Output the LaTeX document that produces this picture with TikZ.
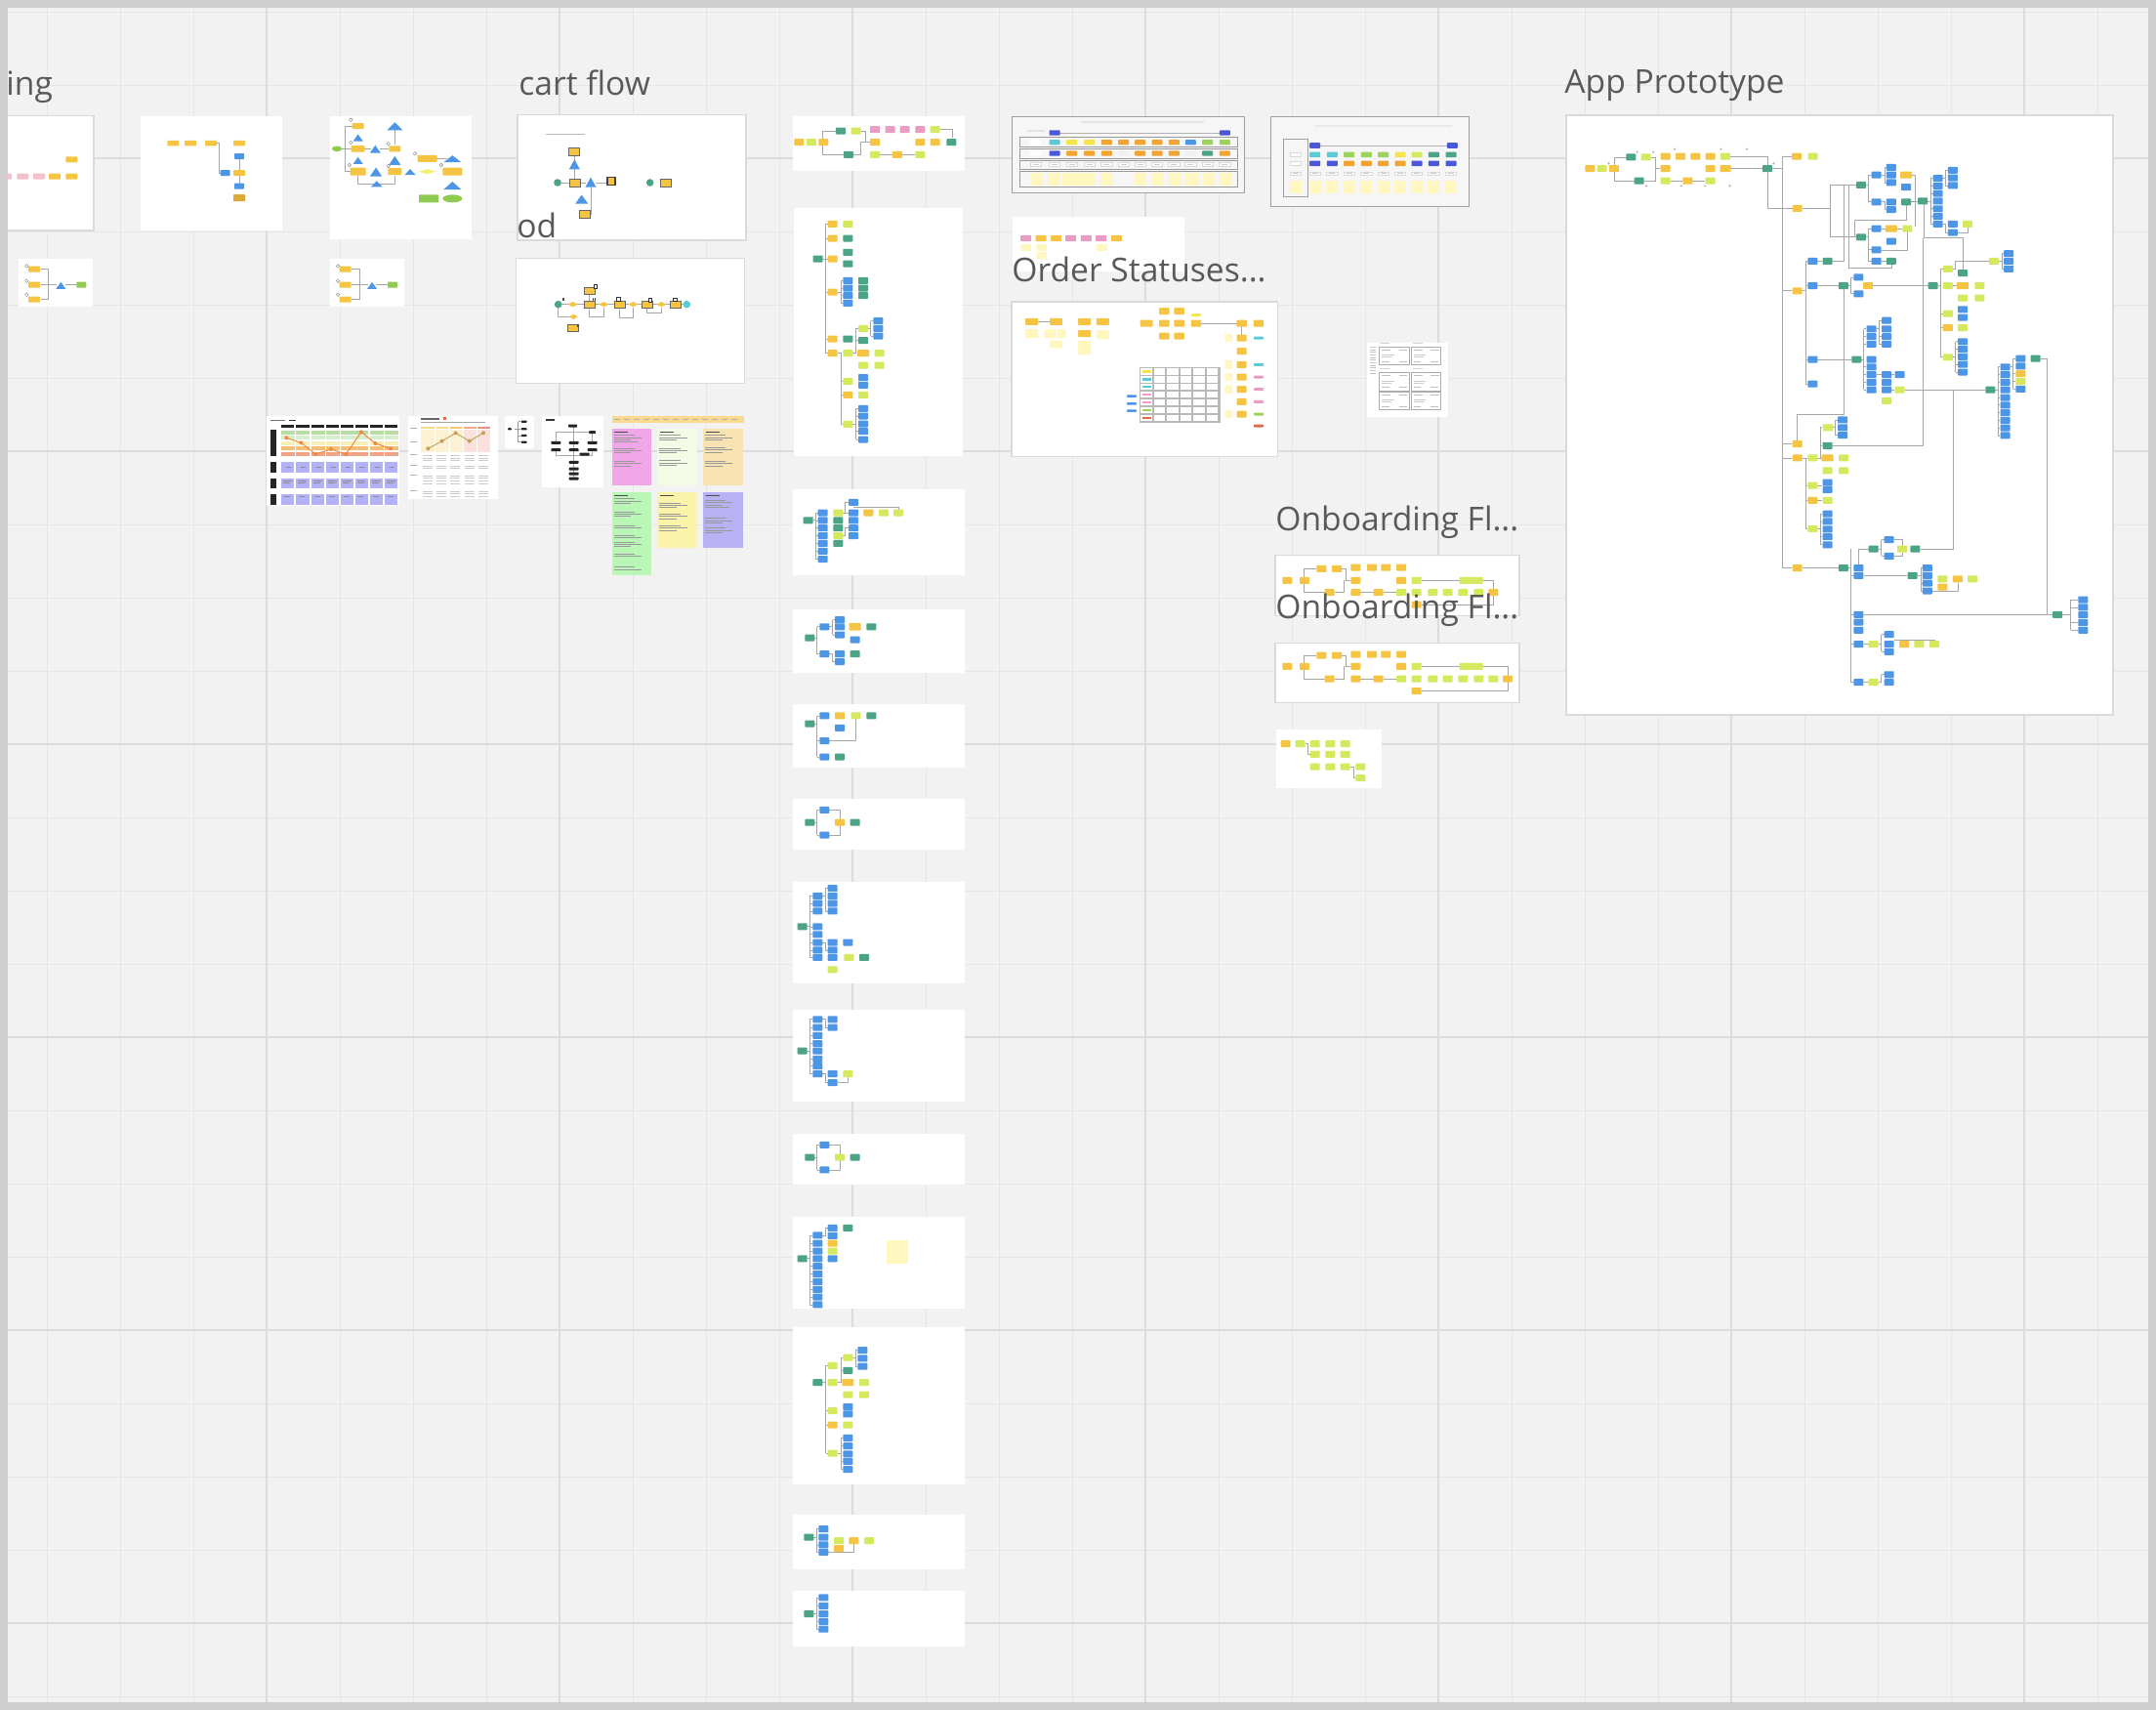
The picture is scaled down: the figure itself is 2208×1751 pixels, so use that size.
\documentclass[tikz,border=0pt]{standalone}
\usepackage{fontspec}
\setmainfont{Open Sans}
\definecolor{bgc}{HTML}{F2F2F2}
\definecolor{gmin}{HTML}{E6E6E6}
\definecolor{gmaj}{HTML}{DCDCDC}
\definecolor{frm}{HTML}{CFCFCF}
\definecolor{cardb}{HTML}{DADADA}
\definecolor{ttlc}{HTML}{595959}
\definecolor{cO}{HTML}{F5C443}
\definecolor{cOd}{HTML}{DDA935}
\definecolor{cL}{HTML}{D6E85E}
\definecolor{cT}{HTML}{4BA486}
\definecolor{cB}{HTML}{4D96E6}
\definecolor{cP}{HTML}{E99CC4}
\definecolor{cPl}{HTML}{F4C0CB}
\definecolor{cY}{HTML}{FFF7BF}
\definecolor{cGr}{HTML}{8FCB4E}
\definecolor{cGa}{HTML}{9CD35A}
\definecolor{cC}{HTML}{5CCAD6}
\definecolor{cDB}{HTML}{4A57D8}
\definecolor{cOr}{HTML}{F0A532}
\definecolor{cYe}{HTML}{F3E54B}
\definecolor{cYd}{HTML}{F4F07A}
\definecolor{cR}{HTML}{DE6B4E}
\definecolor{lnc}{HTML}{A6A6A6}
\definecolor{jm1}{HTML}{B9DCA4}
\definecolor{jm2}{HTML}{D8EDCB}
\definecolor{jm3}{HTML}{F6EFB7}
\definecolor{jm4}{HTML}{F6BE75}
\definecolor{jm5}{HTML}{F2A488}
\definecolor{jmp}{HTML}{B4B2F6}
\definecolor{jml}{HTML}{EE8A40}
\definecolor{jh1}{HTML}{F9D98A}
\definecolor{jh2}{HTML}{F7C56A}
\definecolor{jh3}{HTML}{F3A88F}
\definecolor{jh4}{HTML}{EF8F78}
\definecolor{jb1}{HTML}{FDF1D4}
\definecolor{jb2}{HTML}{FBE0DC}
\definecolor{banc}{HTML}{FAD98E}
\definecolor{stP}{HTML}{F0A6E8}
\definecolor{stLg}{HTML}{F4FBE4}
\definecolor{stBe}{HTML}{FAE3B3}
\definecolor{stG}{HTML}{BAF6B6}
\definecolor{stY}{HTML}{FBF3A9}
\definecolor{stV}{HTML}{B8B1F4}
\definecolor{laneb}{HTML}{F6F6F6}
\tikzset{
  ln/.style={draw=lnc,line width=0.35pt},
  card/.style={fill=white,draw=cardb,line width=0.8pt},
  ttl/.style={font=\fontsize{16.8}{20}\selectfont,text=ttlc,inner sep=0pt,anchor=base west},
  scribst/.style={draw=black!40,line width=0.28pt},
  zA/.style={x=0.166667pt,y=-0.166667pt},
}
\newcommand\rbx[5]{\fill[#1,rounded corners=0.4pt] (#2,#3) ++({-0.5*(#4)},{0.5*(#5)}) rectangle ++(#4,{-1*(#5)});}
\newcommand\bx[3]{\rbx{#1}{#2}{#3}{5pt}{3.5pt}}
\newcommand\bxs[3]{\foreach \yy in {#3}{\bx{#1}{#2}{\yy}}}
\newcommand\tri[4]{\fill[cB] (#1,#2) ++(0pt,{0.5*(#4)}) -- ++({0.5*(#3)},{-1*(#4)}) -- ++({-1*(#3)},0pt) -- cycle;}
\newcommand\dia[4]{\fill[#1] (#2,#3) ++({-0.5*(#4)},0pt) -- ++({0.5*(#4)},1.3pt) -- ++({0.5*(#4)},-1.3pt) -- ++({-0.5*(#4)},-1.3pt) -- cycle;}
\newcommand\obx[4]{\filldraw[fill=cO,draw=black!60,line width=0.25pt] (#1,#2) ++({-0.5*(#3)},{0.5*(#4)}) rectangle ++(#3,{-1*(#4)});}
\newcommand\tks[3]{\foreach \yy in {#3}{\draw[ln] (#1,\yy) -- (#2,\yy);}}
\newcommand\scrib[5]{\foreach \ii in {1,...,#4}{\pgfmathsetmacro\ww{#1+(#3-#1)*(0.45+0.45*mod(\ii*7,5)/4)}\draw[scribst] (#1,{#2+\ii*#5}) -- (\ww,{#2+\ii*#5});}}
\begin{document}
\begin{tikzpicture}[x=0.5pt,y=-0.5pt]
\useasboundingbox (0,0) rectangle (2208,1751);
\fill[bgc] (0,0) rectangle (2208,1751);
\foreach \xx in {48,123,...,2208}{\draw[gmin,line width=0.5pt] (\xx,0) -- (\xx,1751);}
\foreach \yy in {12,87,...,1751}{\draw[gmin,line width=0.5pt] (0,\yy) -- (2208,\yy);}
\foreach \xx in {273,573,...,2208}{\draw[gmaj,line width=1.1pt] (\xx,0) -- (\xx,1751);}
\foreach \yy in {162,462,...,1751}{\draw[gmaj,line width=1.1pt] (0,\yy) -- (2208,\yy);}

% ================= Z1 : left cards
\begin{scope}[shift={(0,60)},zA]
\draw[card] (-30,175) rectangle (288,528);
\rbx{cO}{220}{310}{6pt}{3pt}
\foreach \xa in {18,70,120}{\rbx{cPl}{\xa}{362}{6pt}{3pt}}
\rbx{cO}{168}{362}{6pt}{3pt}
\rbx{cO}{220}{362}{6pt}{3pt}
% card B
\fill[white] (432,178) rectangle (866,528);
\draw[ln] (667,260) -- (673,260) -- (673,351) -- (680,351);
\draw[ln] (735,300) -- (735,392);
\foreach \xa in {532,585,648}{\rbx{cO}{\xa}{260}{6pt}{2.8pt}}
\rbx{cB}{692}{351}{5pt}{3pt}
\rbx{cO}{735}{260}{6pt}{2.8pt}
\rbx{cB}{735}{300}{5pt}{3pt}
\rbx{cO}{735}{351}{6pt}{3pt}
\rbx{cB}{735}{392}{5pt}{3pt}
\rbx{cOd}{735}{428}{6pt}{3.5pt}
% card C
\fill[white] (1013,178) rectangle (1448,555);
\draw[ln] (1085,207) -- (1060,207) -- (1060,347) -- (1080,347);
\draw[ln] (1045,277) -- (1085,277) (1115,277) -- (1140,277) (1167,277) -- (1195,277);
\draw[ln] (1213,215) -- (1213,265);
\draw[ln] (1100,360) -- (1100,385) -- (1213,385) -- (1213,360);
\draw[ln] (1340,307) -- (1375,307);
\fill[cGr] (1035,277) ellipse [x radius=2.6pt, y radius=1.4pt];
\foreach \pa in {(1078,188),(1078,258),(1193,262),(1073,327),(1193,330),(1275,292),(1355,327)}{\draw[gray,line width=0.2pt] \pa circle [radius=0.9pt];}
\rbx{cO}{1100}{207}{6pt}{3pt}
\rbx{cO}{1100}{277}{7pt}{3.2pt}
\rbx{cO}{1213}{277}{6pt}{3pt}
\rbx{cO}{1100}{347}{8pt}{4pt}
\rbx{cO}{1213}{347}{7pt}{3.5pt}
\rbx{cO}{1313}{307}{10pt}{3.5pt}
\rbx{cO}{1390}{347}{10pt}{4pt}
\tri{1213}{208}{8pt}{4pt}
\tri{1100}{243}{5pt}{3.5pt}
\tri{1153}{278}{5.5pt}{4pt}
\tri{1100}{313}{5pt}{3.5pt}
\tri{1155}{348}{6pt}{4.5pt}
\tri{1213}{313}{6pt}{4.5pt}
\tri{1157}{385}{6pt}{3pt}
\tri{1260}{348}{5.5pt}{3pt}
\tri{1390}{308}{9pt}{3.5pt}
\tri{1390}{390}{9pt}{4pt}
\dia{cYd}{1313}{347}{9pt}
\rbx{cGr}{1317}{430}{10pt}{4pt}
\fill[cGr] (1390,430) ellipse [x radius=5pt, y radius=2pt];
% card D and E
\foreach \sh in {0,956}{
\begin{scope}[shift={(\sh,0)}]
\fill[white] (57,615) rectangle (286,762);
\draw[ln] (125,647) -- (148,647) -- (148,740) -- (125,740);
\draw[ln,line width=0.6pt] (125,695) -- (175,695);
\draw[ln] (200,695) -- (240,695);
\rbx{cO}{105}{647}{6pt}{3pt}
\rbx{cO}{105}{695}{6pt}{3pt}
\rbx{cO}{105}{740}{6pt}{3pt}
\foreach \yb in {637,683,725}{\draw[gray,line width=0.2pt] (82,\yb) circle [radius=0.9pt];}
\tri{187}{697}{5pt}{3.5pt}
\rbx{cGr}{250}{695}{5pt}{3pt}
\end{scope}}
\end{scope}

% ================= Z2 : cart flow
\begin{scope}[shift={(520,60)},zA]
\draw[card] (30,173) rectangle (732,558);
\draw[gray!55,line width=0.8pt] (117,232) -- (237,232);
\draw[ln] (153,381) -- (240,381) (270,381) -- (305,381);
\draw[ln] (205,295) -- (205,370);
\draw[ln] (257,395) -- (257,477) -- (252,477);
\obx{203}{285}{5.5pt}{4pt}
\tri{205}{325}{5.5pt}{5pt}
\fill[cT] (153,381) circle [radius=1.9pt];
\obx{205}{381}{5.5pt}{4pt}
\tri{255}{380}{5.5pt}{5pt}
\filldraw[fill=cO,draw=black!75,line width=0.6pt] (318,377) ++(-2pt,2pt) rectangle ++(4pt,-4pt);
\tri{227}{432}{6.5pt}{4.5pt}
\obx{237}{477}{5.5pt}{4pt}
\fill[cT] (437,381) circle [radius=1.9pt];
\obx{486}{381}{5.5pt}{4pt}
% card G
\draw[card] (25,613) rectangle (727,997);
\draw[ln] (160,755) -- (540,755);
\draw[ln] (155,760) -- (155,793) -- (190,793);
\draw[ln] (250,770) -- (250,793) -- (295,793) -- (295,765);
\draw[ln] (343,770) -- (343,797) -- (385,797) -- (385,765);
\draw[ln] (428,768) -- (428,782) -- (472,782) -- (472,765);
\draw[ln] (250,722) -- (250,745);
\fill[cT] (155,755) circle [radius=1.9pt];
\fill[cC] (550,755) circle [radius=1.9pt];
\foreach \xa in {200,295,385,472}{\dia{cO}{\xa}{755}{5pt}}
\dia{cO}{202}{793}{4.5pt}
\foreach \xa in {250,343,428,515}{\obx{\xa}{755}{5.5pt}{3.5pt}}
\obx{250}{712}{5.5pt}{3.5pt}
\obx{200}{827}{5.5pt}{3.5pt}
\foreach \pa in {(270,700),(341,740),(438,743),(515,741)}{\filldraw[fill=white,draw=black!80,line width=0.4pt] \pa ++(-0.9pt,0.9pt) rectangle ++(1.8pt,-1.8pt);}
\foreach \pa in {(168,745),(262,745),(213,825)}{\draw[black!70,line width=0.4pt] \pa -- ++(0pt,1.5pt) ++(0.8pt,0pt) -- ++(0pt,-1.5pt);}
\end{scope}

% ================= Z3 : journey maps and stickies
\begin{scope}[shift={(260,410)},zA]
\fill[white] (40,48) rectangle (448,325);
\fill[black!55] (50,60) rectangle (95,63);
\fill[black!80] (108,59) rectangle (128,64);
\foreach \xa in {104,150,197,242,287,331,377,422}{
 \fill[black!85] (\xa-20,75) rectangle (\xa+20,85);
 \fill[jm1] (\xa-21,92) rectangle (\xa+21,105);
 \fill[jm2] (\xa-21,108) rectangle (\xa+21,120);
 \fill[jm3] (\xa-21,125) rectangle (\xa+21,138);
 \fill[jm4] (\xa-21,142) rectangle (\xa+21,154);
 \fill[jm5] (\xa-21,160) rectangle (\xa+21,172);
 \fill[jmp] (\xa-20,190) rectangle (\xa+20,222);
 \fill[jmp] (\xa-20,240) rectangle (\xa+20,270);
 \fill[jmp] (\xa-20,288) rectangle (\xa+20,320);
 \draw[black!45,line width=0.25pt] (\xa-14,246) -- (\xa+12,246) (\xa-14,252) -- (\xa+8,252) (\xa-12,296) -- (\xa+6,296) (\xa-6,205) -- (\xa+10,205);
}
\fill[black!85] (50,90) rectangle (70,172);
\fill[black!85] (50,190) rectangle (70,222);
\fill[black!85] (50,240) rectangle (70,270);
\fill[black!85] (50,288) rectangle (70,320);
\draw[jml,line width=0.5pt] (100,115) -- (145,130) -- (190,165) -- (237,150) -- (283,165) -- (330,97) -- (373,132) -- (420,148);
\foreach \pa in {(100,115),(145,130),(190,165),(237,150),(283,165),(330,97),(373,132),(420,148)}{\fill[jml] \pa circle [radius=1pt];}
% card I
\fill[white] (473,48) rectangle (750,302);
\fill[black!60] (513,54) rectangle (570,59);
\fill[cR] (583,51) rectangle (590,60);
\fill[black!35] (513,67) rectangle (712,70);
\fill[jh1] (513,80) rectangle (555,88);
\fill[jh1] (560,80) rectangle (597,88);
\fill[jh2] (602,80) rectangle (640,88);
\fill[jh3] (645,80) rectangle (683,88);
\fill[jh4] (688,80) rectangle (725,88);
\fill[jb1] (513,90) rectangle (642,160);
\fill[jb2] (642,90) rectangle (725,160);
\foreach \xa in {557,600,643,686}{\draw[white,line width=0.4pt] (\xa,80) -- (\xa,160);}
\draw[jh2!80!black,line width=0.45pt] (535,148) -- (578,125) -- (620,100) -- (662,125) -- (705,100);
\foreach \pa in {(535,148),(578,125),(620,100),(662,125),(705,100)}{\fill[jh2!80!black] \pa circle [radius=1pt];}
\foreach \yb in {85,125,165,198,228,275}{\fill[black!30] (480,\yb) rectangle (500,\yb+3);}
\foreach \xa in {534,578,620,664,706}{
 \foreach \yb in {168,176,184,200,208,230,238,246,254,278,286,294}{\fill[black!20] (\xa-16,\yb) rectangle (\xa+14,\yb+2.5);}}
% card J
\fill[white] (772,48) rectangle (862,148);
\draw[black!40,line width=0.25pt] (800,88) -- (812,88) (812,65) -- (812,128);
\foreach \yb in {65,88,108,128}{\draw[black!40,line width=0.25pt] (812,\yb) -- (818,\yb); \rbx{black!85}{830}{\yb}{3pt}{1.1pt}}
\rbx{black!85}{786}{88}{2pt}{1.1pt}
% card K
\fill[white] (886,48) rectangle (1075,267);
\fill[black!80] (898,57) rectangle (925,63);
\draw[black!35,line width=0.3pt] (928,125) -- (928,98) -- (1040,98) -- (1040,125) (983,82) -- (983,168) (928,155) -- (928,168) -- (1040,168) -- (1040,158) (983,168) -- (983,240);
\rbx{black!85}{980}{78}{4.5pt}{1.5pt}
\rbx{black!85}{1040}{98}{3.5pt}{1.5pt}
\foreach \pa/\pb in {928/130,983/130,1040/130,928/152,983/152,1040/152,1016/165,983/190,983/210,983/225,983/240}{\rbx{black!85}{\pa}{\pb}{5pt}{1.5pt}}
% banner
\fill[banc] (1100,48) rectangle (1505,68);
\foreach \xa in {1106,1136,...,1490}{\fill[black!30] (\xa,56) rectangle (\xa+20,59);}
% stickies
\fill[stP] (1100,87) rectangle (1222,262);
\fill[stLg] (1240,87) rectangle (1362,262);
\fill[stBe] (1380,87) rectangle (1502,262);
\fill[stG] (1100,282) rectangle (1222,537);
\fill[stY] (1240,282) rectangle (1362,453);
\fill[stV] (1380,282) rectangle (1502,453);
\foreach \xa/\yb in {1100/87,1240/87,1380/87,1100/282,1240/282,1380/282}{\draw[black!70,line width=0.4pt] (\xa+8,\yb+11) -- (\xa+50,\yb+11);}
\scrib{1106}{100}{1200}{4}{7}
\scrib{1106}{140}{1200}{3}{7}
\scrib{1106}{180}{1200}{3}{7}
\scrib{1246}{100}{1340}{3}{7}
\scrib{1246}{140}{1340}{3}{7}
\scrib{1246}{178}{1340}{3}{7}
\scrib{1386}{100}{1480}{3}{7}
\scrib{1386}{138}{1480}{3}{7}
\scrib{1386}{180}{1480}{3}{7}
\scrib{1106}{295}{1200}{3}{7}
\scrib{1106}{335}{1200}{3}{7}
\scrib{1106}{378}{1200}{2}{7}
\scrib{1106}{408}{1200}{2}{7}
\scrib{1106}{428}{1200}{3}{7}
\scrib{1106}{465}{1200}{2}{7}
\scrib{1106}{505}{1200}{2}{7}
\scrib{1246}{308}{1340}{3}{7}
\scrib{1246}{342}{1340}{3}{7}
\scrib{1246}{378}{1340}{3}{7}
\scrib{1386}{300}{1480}{4}{7}
\scrib{1386}{355}{1480}{3}{7}
\scrib{1386}{385}{1480}{3}{7}
\end{scope}

% ================= Z4 : column top cards
\begin{scope}[shift={(800,100)},zA]
\fill[white] (35,58) rectangle (563,225);
\draw[ln] (168,102) -| (128,175) -- (192,175);
\draw[ln] (245,102) -- (260,102) -- (260,137) -- (273,137);
\draw[ln] (222,175) -- (245,175) -- (245,137) -- (260,137);
\draw[ln] (303,175) -- (342,175) (372,175) -- (412,175);
\draw[ln] (488,98) -- (525,98) -- (525,122);
\bx{cO}{55}{137}\bx{cL}{93}{137}\bx{cO}{130}{137}
\bx{cT}{183}{102}\bx{cL}{230}{102}
\foreach \xa in {288,335,380,427}{\bx{cP}{\xa}{98}}
\bx{cL}{473}{98}
\bx{cO}{288}{137}\bx{cO}{427}{137}\bx{cO}{473}{137}\bx{cT}{523}{137}
\bx{cT}{207}{175}\bx{cL}{288}{175}\bx{cO}{357}{175}\bx{cL}{427}{175}
% card M
\fill[white] (40,338) rectangle (558,1102);
\draw[ln,line width=0.5pt] (128,495) -- (135,495);
\draw[ln] (135,388) -- (135,785);
\tks{135}{143}{388,432,495,597,741,785}
\draw[ln] (173,597) -- (183,597);
\draw[ln] (183,562) -- (183,631);
\tks{183}{190}{562,585,608,631}
\draw[ln] (220,785) -- (230,785);
\draw[ln] (230,709) -- (230,785);
\tks{230}{237}{709,746}
\draw[ln] (267,709) -- (275,709);
\draw[ln] (275,686) -- (275,732);
\tks{275}{283}{686,732}
\draw[ln] (173,785) -- (183,785) -- (183,1003) -- (190,1003);
\tks{183}{190}{872,913}
\draw[ln] (220,1003) -- (230,1003);
\draw[ln] (230,955) -- (230,1050);
\tks{230}{237}{955,978,1025,1050}
\bx{cT}{113}{495}
\bxs{cO}{158}{388,432,495,597,741,785}
\bx{cL}{205}{388}\bx{cT}{205}{432}\bx{cT}{205}{475}\bx{cT}{205}{510}
\bxs{cB}{205}{562,585,608,631}
\bxs{cT}{252}{562,585,608}
\bx{cT}{205}{741}\bx{cL}{252}{709}\bx{cT}{252}{746}
\bxs{cB}{298}{686,709,732}
\bx{cL}{205}{785}\rbx{cO}{252}{785}{6pt}{3.5pt}\bx{cL}{302}{785}\bx{cL}{252}{822}\bx{cL}{302}{822}
\bx{cL}{205}{872}\bxs{cB}{252}{860,883}
\bx{cO}{205}{913}\bx{cL}{252}{913}
\bx{cL}{205}{1003}
\bxs{cB}{252}{955,978,1002,1025,1050}
\end{scope}

% ================= Z8 : column cards 3-7
\fill[white] (812,501) rectangle (988,589);
\fill[white] (812,624) rectangle (988,689);
\fill[white] (812,721) rectangle (988,786);
\fill[white] (812,818) rectangle (988,870);
\fill[white] (812,903) rectangle (988,1007);
\fill[white] (812,1034) rectangle (988,1128);
\fill[white] (812,1161) rectangle (988,1213);
\fill[white] (812,1246) rectangle (988,1340);
\fill[white] (812,1359) rectangle (988,1520);
\fill[white] (812,1551) rectangle (988,1607);
\fill[white] (812,1629) rectangle (988,1686);
\begin{scope}[shift={(800,490)},x=0.166667pt,y=-0.178571pt]
% card 3
\draw[ln,line width=0.5pt] (98,120) -- (105,120);
\draw[ln] (105,98) -- (105,231);
\tks{105}{113}{98,120,142,164,186,208,231}
\draw[ln] (190,98) -- (197,98) -- (197,68) -- (207,68);
\draw[ln] (197,98) -- (207,98);
\draw[ln] (190,164) -- (197,164) -- (197,142) -- (207,142);
\draw[ln] (222,82) -- (360,82) -- (360,90);
\bx{cT}{83}{120}
\bxs{cB}{128}{98,120,142,164,186,208,231}
\bx{cL}{175}{98}\bx{cT}{175}{120}\bx{cT}{175}{142}\bx{cL}{175}{164}\bx{cT}{175}{186}
\bx{cB}{222}{68}
\bxs{cB}{222}{98,120,142,164}
\bx{cO}{268}{98}\bx{cL}{315}{98}\bx{cL}{360}{98}
% card 4
\draw[ln] (103,457) -- (110,457);
\draw[ln] (110,425) -- (110,503);
\tks{110}{118}{425,503}
\draw[ln] (148,425) -- (158,425);
\draw[ln] (158,405) -- (158,448);
\tks{158}{165}{405,448}
\draw[ln] (148,503) -- (158,503) -- (158,525) -- (165,525);
\bx{cT}{88}{457}\bx{cB}{133}{425}
\bxs{cB}{180}{405,425,448}
\rbx{cO}{227}{425}{6pt}{3.8pt}\bx{cT}{277}{425}\bx{cB}{227}{462}
\bx{cB}{133}{503}\bxs{cB}{180}{503,525}\bx{cT}{227}{503}
% card 5
\draw[ln] (103,703) -- (110,703);
\draw[ln] (110,680) -- (110,798);
\tks{110}{118}{680,752,798}
\draw[ln] (148,752) -- (230,752) -- (230,690);
\bx{cT}{88}{703}\bx{cB}{133}{680}\bx{cO}{180}{680}\bx{cL}{230}{680}\bx{cT}{277}{680}\bx{cB}{180}{715}
\bx{cB}{133}{752}\bx{cB}{133}{798}\bx{cT}{180}{798}
% card 6
\draw[ln] (103,986) -- (110,986);
\draw[ln] (110,950) -- (110,1022);
\tks{110}{118}{950,1022}
\draw[ln] (148,950) -- (180,950) -- (180,1022) -- (148,1022);
\bx{cT}{88}{986}\bx{cB}{133}{950}\bx{cB}{133}{1022}\bx{cO}{180}{986}\bx{cT}{227}{986}
% card 7
\draw[ln,line width=0.5pt] (80,1285) -- (88,1285);
\draw[ln] (88,1197) -- (88,1373);
\tks{88}{97}{1197,1218,1240,1285,1307,1330,1352,1373}
\draw[ln] (127,1197) -- (135,1197);
\draw[ln] (135,1175) -- (135,1240);
\tks{135}{143}{1175,1240}
\draw[ln] (127,1330) -- (135,1330) -- (135,1352) -- (143,1352);
\bx{cT}{65}{1285}
\bxs{cB}{112}{1197,1218,1240,1285,1307,1330,1352,1373}
\bxs{cB}{158}{1175,1197,1218,1240,1330,1352,1373}
\bx{cB}{205}{1330}\bx{cL}{208}{1373}\bx{cT}{255}{1373}\bx{cL}{158}{1408}
\end{scope}

% ================= Z9 : column cards 8-13
\begin{scope}[shift={(800,1050)},x=0.166667pt,y=-0.206612pt]
% card 8
\draw[ln,line width=0.5pt] (80,63) -- (88,63);
\draw[ln] (88,-15) -- (88,120);
\tks{88}{97}{-15,5,25,45,83,101,120}
\draw[ln] (127,-15) -- (135,-15) -- (135,5) -- (143,5);
\draw[ln] (127,120) -- (135,120) -- (135,142) -- (143,142);
\draw[ln] (173,142) -- (205,142) -- (205,128);
\bx{cT}{65}{63}
\bxs{cB}{112}{-15,5,25,45,63,83,101,120}
\bxs{cB}{158}{-15,5,120,142}
\bx{cL}{205}{120}
% card 9
\draw[ln] (103,327) -- (110,327);
\draw[ln] (110,296) -- (110,358);
\tks{110}{118}{296,358}
\draw[ln] (148,296) -- (180,296) -- (180,358) -- (148,358);
\bx{cT}{88}{327}\bx{cB}{133}{296}\bx{cB}{133}{358}\bx{cL}{180}{327}\bx{cT}{227}{327}
% card 10
\draw[ln,line width=0.5pt] (80,578) -- (88,578);
\draw[ln] (88,520) -- (88,692);
\tks{88}{97}{520,540,559,597,616,635,654,673,692}
\draw[ln] (127,520) -- (135,520) -- (135,502) -- (143,502);
\bx{cT}{65}{578}
\bxs{cB}{112}{520,540,559,578,597,616,635,654,673,692}
\bxs{cB}{158}{502,521,578}
\bx{cO}{158}{540}\bx{cL}{158}{559}\bx{cT}{205}{502}
\fill[cY] (325,532) rectangle (390,590);
% card 11
\draw[ln] (127,885) -- (137,885);
\draw[ln] (137,843) -- (137,1060);
\tks{137}{143}{843,955,990,1060}
\draw[ln] (173,885) -- (183,885) -- (183,823) -- (190,823);
\draw[ln] (183,855) -- (190,855);
\draw[ln] (220,823) -- (228,823);
\draw[ln] (228,805) -- (228,845);
\tks{228}{235}{805,845}
\draw[ln] (173,1060) -- (183,1060);
\draw[ln] (183,1022) -- (183,1100);
\tks{183}{190}{1022,1042,1080,1100}
\bx{cT}{112}{885}
\bxs{cL}{158}{843,885,955,1060}
\bx{cO}{158}{990}
\bx{cL}{205}{823}\bx{cT}{205}{855}\rbx{cO}{205}{885}{6pt}{3.5pt}\bx{cL}{255}{885}\bx{cL}{205}{915}\bx{cL}{255}{915}
\bxs{cB}{250}{805,825,845}
\bxs{cB}{205}{945,963}
\bx{cL}{205}{990}
\bxs{cB}{205}{1022,1042,1062,1080,1100}
% card 12
\draw[ln] (100,1268) -- (108,1268);
\draw[ln] (108,1248) -- (108,1305);
\tks{108}{115}{1248,1287,1305}
\draw[ln] (145,1305) -- (223,1305) -- (223,1285);
\bx{cT}{85}{1268}
\bxs{cB}{130}{1248,1268,1287,1305}
\bx{cL}{177}{1277}\bx{cO}{223}{1277}\bx{cL}{270}{1277}\bx{cO}{177}{1296}
% card 13
\draw[ln] (100,1458) -- (108,1458);
\draw[ln] (108,1418) -- (108,1496);
\tks{108}{115}{1418,1438,1477,1496}
\bx{cT}{85}{1458}
\bxs{cB}{130}{1418,1438,1458,1477,1496}
\end{scope}

% ================= Z5 : swimlanes, order statuses
\begin{scope}[shift={(1030,100)},zA]
\filldraw[fill=laneb,draw=gray!75,line width=0.5pt] (18,57) rectangle (732,292);
\fill[gray!22] (230,73) rectangle (610,79);
\fill[gray!22] (65,100) rectangle (120,104);
\foreach \ya/\yb in {122/152,157/187,192/220,225/275}{\draw[gray!80,line width=0.4pt] (43,\ya) rectangle (713,\yb);}
\draw[gray!60,line width=0.4pt] (165,108) -- (658,108);
\rbx{cDB}{150}{108}{5.5pt}{2.6pt}
\rbx{cDB}{673}{108}{5.5pt}{2.6pt}
\foreach \xa/\ca in {92/white,150/cC,203/cYe,257/cYe,310/cOr,362/cOr,413/cOr,465/cOr,517/cOr,568/cB,620/cGa,673/cGa}{\rbx{\ca}{\xa}{137}{5.5pt}{2.6pt}}
\foreach \xa/\ca in {92/white,150/cDB,203/cOr,257/cOr,310/cOr,362/gray!12,413/cOr,465/cOr,517/cOr,568/gray!12,620/cT,673/cOr}{\rbx{\ca}{\xa}{171}{5.5pt}{2.6pt}}
\foreach \xa in {92,150,203,257,310,362,413,465,517,568,620,673}{\filldraw[fill=white,draw=gray!30,line width=0.2pt] (\xa-17,200) rectangle (\xa+17,211); \fill[gray!40] (\xa-9,204) rectangle (\xa+9,206);}
\foreach \xa/\xb in {75/110,130/168,173/275,290/328,395/433,447/485,500/537,553/590,605/642,657/695}{\fill[cY] (\xa,230) rectangle (\xb,270);}
% card O
\filldraw[fill=laneb,draw=gray!75,line width=0.5pt] (813,57) rectangle (1422,333);
\fill[gray!18] (950,84) rectangle (1370,90);
\draw[gray!75,line width=0.4pt] (853,128) rectangle (928,303);
\draw[gray!60,line width=0.4pt] (965,147) -- (1357,147);
\rbx{cDB}{950}{147}{5.5pt}{2.8pt}
\rbx{cDB}{1372}{147}{5.5pt}{2.8pt}
\foreach \xa/\ca in {950/cC,1003/cC,1055/cGa,1108/cGa,1160/cGa,1212/cYe,1263/cL,1315/cT,1368/cT}{\rbx{\ca}{\xa}{175}{5.5pt}{2.8pt}}
\foreach \xa/\ca in {950/cDB,1003/cDB,1055/cOr,1108/cOr,1160/cOr,1212/cOr,1263/cDB,1315/cDB,1368/cDB}{\rbx{\ca}{\xa}{202}{5.5pt}{2.8pt}}
\foreach \xa in {890,950,1003,1055,1108,1160,1212,1263,1315,1368}{\filldraw[fill=white,draw=gray!30,line width=0.2pt] (\xa-17,228) rectangle (\xa+17,239); \fill[gray!40] (\xa-9,232) rectangle (\xa+9,234); \fill[cY] (\xa-18,254) rectangle (\xa+18,295);}
\foreach \yb in {175,202}{\filldraw[fill=white,draw=gray!30,line width=0.2pt] (873,\yb-5) rectangle (907,\yb+5);}
% card P
\fill[white] (20,365) rectangle (548,535);
\foreach \xa/\ca in {62/cP,108/cO,155/cO,200/cP,247/cP,293/cP,340/cO}{\rbx{\ca}{\xa}{432}{5.5pt}{3.2pt}}
\foreach \pa/\pb in {62/460,110/460,110/485,295/460}{\rbx{cY}{\pa}{\pb}{5.5pt}{3.5pt}}
% card Q
\draw[card] (18,627) rectangle (835,1103);
\draw[ln] (95,688) -- (140,688) (600,693) -- (710,693) (725,700) -- (725,730);
\rbx{cO}{80}{688}{6.5pt}{3.5pt}\rbx{cO}{155}{688}{6.5pt}{3.5pt}
\rbx{cY}{80}{725}{6.5pt}{4.5pt}\rbx{cY}{137}{725}{6pt}{4.5pt}\rbx{cY}{172}{725}{4pt}{4.5pt}\rbx{cY}{155}{758}{6.5pt}{4pt}
\rbx{cO}{242}{688}{6.5pt}{3.5pt}\rbx{cO}{298}{688}{6.5pt}{3.5pt}\rbx{cO}{242}{725}{6.5pt}{3.5pt}
\rbx{cY}{298}{728}{6.5pt}{4.5pt}\rbx{cY}{242}{768}{6.5pt}{7pt}
\rbx{cO}{432}{693}{6.5pt}{3.5pt}
\foreach \pa/\pb in {487/656,533/656,487/693,533/693,487/732,533/732,585/693,725/693,777/693}{\rbx{cO}{\pa}{\pb}{5.2pt}{3.5pt}}
\rbx{cYe}{585}{668}{5pt}{1.5pt}
\foreach \yb in {738,779,820,858,896,934,972}{\rbx{cO}{725}{\yb}{5pt}{3.5pt}}
\foreach \yb in {738,820,858,896,972}{\rbx{cY}{685}{\yb}{3.8pt}{4.2pt}}
\foreach \yb/\ca in {738/cC,820/cC,858/cP,896/cP,934/cP,972/cGa,1008/cR}{\rbx{\ca}{777}{\yb}{5pt}{1.5pt}}
\foreach \yb in {917,940,962}{\rbx{cB}{387}{\yb}{5pt}{1.3pt}}
\fill[gray!55] (410,827) rectangle (660,1000);
\foreach \ci in {0,...,5}{\foreach \ri in {0,...,6}{\fill[white] (415+\ci*40.5,832+\ri*23.6) rectangle (412+\ci*40.5+36.5,832+\ri*23.6+19);}}
\foreach \ri/\ca in {0/cYe,1/cC,2/cC,3/cP,4/cP,5/cGa,6/cR}{\fill[\ca] (420,838+\ri*23.6) rectangle (447,845+\ri*23.6);}
% card R
\fill[white] (1110,752) rectangle (1358,980);
\foreach \yb in {765,773,...,850}{\fill[gray!45] (1118,\yb) rectangle (1138,\yb+2);}
\foreach \xa/\yb in {1148/765,1245/765,1148/845,1245/845,1148/903,1245/903}{
 \draw[gray!65,line width=0.3pt] (\xa,\yb) rectangle (\xa+92,\yb+55);
 \fill[gray!50] (\xa+8,\yb+8) rectangle (\xa+35,\yb+11);
 \fill[gray!50] (\xa+60,\yb+8) rectangle (\xa+86,\yb+11);
 \fill[gray!40] (\xa+8,\yb+24) rectangle (\xa+45,\yb+27);
 \fill[gray!40] (\xa+8,\yb+30) rectangle (\xa+38,\yb+33);
 \fill[gray!50] (\xa+8,\yb+44) rectangle (\xa+30,\yb+47);
 \fill[gray!50] (\xa+60,\yb+44) rectangle (\xa+84,\yb+47);}
\fill[gray!35] (1150,752) rectangle (1180,755);
\fill[gray!35] (1250,752) rectangle (1280,755);
\fill[gray!35] (1150,832) rectangle (1180,835);
\fill[gray!35] (1250,832) rectangle (1280,835);
\end{scope}

% ================= Z6 : onboarding
\begin{scope}[shift={(1300,500)},zA]
\draw[card] (18,205) rectangle (768,392);
\draw[ln] (145,247) -- (107,247) -- (107,320) -- (170,320);
\draw[ln] (222,247) -- (235,247) -- (235,283) -- (250,283);
\draw[ln] (200,320) -- (228,320) -- (228,283);
\draw[ln] (280,320) -- (320,320) (350,320) -- (390,320);
\draw[ln] (467,283) -- (595,283) (645,283) -- (688,283) -- (688,357) -- (467,357);
\foreach \pa/\pb in {55/283,108/283,160/247,207/247,265/243,315/243,358/243,405/243,265/283,405/283,185/320,265/320,335/320,688/320,452/357}{\bx{cO}{\pa}{\pb}}
\foreach \pa/\pb in {452/283,405/320,452/320,502/320,548/320,595/320,643/320}{\bx{cL}{\pa}{\pb}}
\rbx{cL}{620}{283}{12pt}{3.5pt}
% card T
\draw[card] (18,476) rectangle (768,658);
\draw[ln] (145,513) -- (107,513) -- (107,585) -- (170,585);
\draw[ln] (222,513) -- (235,513) -- (235,547) -- (250,547);
\draw[ln] (200,585) -- (228,585) -- (228,547);
\draw[ln] (280,585) -- (320,585) (350,585) -- (390,585);
\draw[ln] (467,547) -- (595,547) (645,547) -- (732,547) -- (732,623) -- (467,623);
\foreach \pa/\pb in {55/547,108/547,160/513,207/513,265/510,315/510,358/510,405/510,265/547,405/547,185/585,265/585,335/585,732/585,452/623}{\bx{cO}{\pa}{\pb}}
\foreach \pa/\pb in {452/547,405/585,452/585,502/585,548/585,595/585,643/585,688/585}{\bx{cL}{\pa}{\pb}}
\rbx{cL}{620}{547}{12pt}{3.5pt}
% card U
\fill[white] (20,740) rectangle (345,920);
\draw[ln] (110,785) -- (118,785) -- (118,817) -- (125,817);
\draw[ln] (248,855) -- (258,855) -- (258,890) -- (265,890);
\bx{cO}{50}{785}
\foreach \pa/\pb in {95/785,140/785,187/785,233/785,140/817,187/817,233/817,140/855,187/855,233/855,280/855,280/890}{\bx{cL}{\pa}{\pb}}
\end{scope}

% ================= Z7 : App Prototype
\draw[card] (1604,118) rectangle (2164,732);
\begin{scope}[shift={(1600.4,59.5)},x=0.18125pt,y=-0.21665pt]
\draw[ln] (160,261) -- (145,261);
\draw[ln] (180,234) -- (145,234) -- (145,290) -- (203,290);
\draw[ln] (249,234) -- (262,234) -- (262,261) -- (276,261);
\draw[ln] (230,290) -- (262,290) -- (262,261);
\draw[ln] (304,290) -- (339,290) (367,290) -- (403,290);
\draw[ln] (474,232) -- (580,232) -- (580,355) -- (649,355);
\draw[ln] (474,261) -- (564,261);
\draw[ln,line width=0.55pt] (592,261) -- (620,261);
\draw[ln,line width=0.5pt] (620,232) -- (620,1205);
\tks{620}{647}{232,550,912,945,1205}
\draw[ln] (677,355) -- (755,355);
\draw[ln] (755,300) -- (755,423);
\tks{755}{829}{300,423}
\draw[ln] (857,300) -- (862,300);
\draw[ln] (862,276) -- (862,340);
\tks{862}{872}{276,340}
\draw[ln] (900,276) -- (910,276);
\draw[ln] (910,258) -- (910,294);
\tks{910}{914}{258,294}
\draw[ln] (900,340) -- (910,340) -- (910,358) -- (914,358);
\draw[ln] (984,276) -- (995,276) -- (995,398);
\draw[ln] (984,340) -- (1003,340);
\draw[ln] (1031,338) -- (1040,338);
\draw[ln] (1040,284) -- (1040,392);
\tks{1040}{1046}{284,302,320,356,374,392}
\draw[ln] (1074,284) -- (1080,284);
\draw[ln] (1080,265) -- (1080,301);
\tks{1080}{1088}{265,301}
\draw[ln] (1074,392) -- (1080,392) -- (1080,412) -- (1088,412);
\draw[ln] (1116,412) -- (1144,412) -- (1144,400);
\draw[ln] (970,347) -- (970,383) -- (825,383) -- (825,423);
\draw[ln] (808,300) -- (808,495) -- (930,495) -- (930,487);
\draw[ln] (1020,345) -- (1020,425) -- (1130,425) -- (1130,500);
\draw[ln] (857,423) -- (862,423);
\draw[ln] (862,403) -- (862,480);
\tks{862}{872}{403,453,480}
\draw[ln] (900,403) -- (914,403) (942,403) -- (960,403);
\draw[ln] (974,410) -- (974,455) -- (900,455);
\draw[ln] (900,480) -- (914,480);
\draw[ln] (677,550) -- (686,550);
\draw[ln] (686,480) -- (686,770);
\tks{686}{692}{480,538,712,770}
\draw[ln] (720,480) -- (734,480) (762,480) -- (793,480) -- (793,300);
\draw[ln] (720,538) -- (779,538) (807,538) -- (815,538);
\draw[ln] (815,518) -- (815,557);
\tks{815}{822}{518,557}
\draw[ln] (877,538) -- (1032,538) (1060,538) -- (1068,538);
\draw[ln] (1068,498) -- (1068,707);
\tks{1068}{1074}{498,604,637,707}
\draw[ln] (1102,498) -- (1110,498) -- (1110,480) -- (1204,480) (1232,480) -- (1240,480);
\draw[ln] (1240,462) -- (1240,498);
\tks{1240}{1246}{462,498}
\draw[ln] (1102,538) -- (1116,538) (1102,707) -- (1110,707);
\draw[ln] (1110,670) -- (1110,742);
\tks{1110}{1116}{670,688,724,742}
\draw[ln] (720,712) -- (816,712) (844,712) -- (850,712);
\draw[ln] (850,640) -- (850,784);
\tks{850}{858}{640,658,676,730,748,766,784}
\draw[ln] (886,640) -- (893,640);
\draw[ln] (893,620) -- (893,676);
\tks{893}{901}{620,658,676}
\draw[ln] (886,748) -- (901,748) (929,748) -- (938,748) (929,784) -- (938,784) (966,784) -- (1194,784) (1222,784) -- (1230,784);
\draw[ln] (1230,730) -- (1230,892);
\tks{1230}{1236}{730,748,766,802,820,838,856,874,892}
\draw[ln] (1264,730) -- (1272,730);
\draw[ln] (1272,710) -- (1272,782);
\tks{1272}{1280}{710,746,764,782}
\draw[ln] (1350,710) -- (1368,710) -- (1368,1315);
\draw[ln] (661,905) -- (661,843) -- (793,843) -- (793,545);
\draw[ln] (677,945) -- (692,945) (720,945) -- (734,945);
\draw[ln] (728,873) -- (728,945);
\tks{728}{734}{873,916}
\draw[ln] (763,873) -- (770,873);
\draw[ln] (770,855) -- (770,891);
\tks{770}{777}{855,891}
\draw[ln] (762,916) -- (1018,916) -- (1018,425);
\draw[ln] (686,945) -- (686,1112);
\tks{686}{692}{1010,1045,1112}
\draw[ln] (720,1112) -- (728,1112);
\draw[ln] (728,1077) -- (728,1150);
\tks{728}{734}{1077,1095,1131,1150}
\draw[ln] (720,1010) -- (734,1010) (720,1045) -- (734,1045);
\draw[ln] (677,1205) -- (779,1205) (807,1205) -- (815,1205);
\draw[ln,line width=0.5pt] (815,1160) -- (815,1475);
\tks{815}{822}{1223,1315,1385,1475}
\draw[ln] (836,1197) -- (836,1160) -- (864,1160) (892,1160) -- (900,1160);
\draw[ln] (900,1138) -- (900,1177);
\tks{900}{908}{1138,1177}
\draw[ln] (936,1138) -- (959,1138) -- (959,1152) (936,1177) -- (959,1177) -- (959,1168);
\draw[ln] (1010,1160) -- (1102,1160) -- (1102,784);
\draw[ln] (850,1223) -- (974,1223) (1002,1223) -- (1012,1223);
\draw[ln] (1012,1205) -- (1012,1259);
\tks{1012}{1016}{1205,1241,1259}
\draw[ln] (1044,1259) -- (1116,1259) -- (1116,1240);
\draw[ln] (850,1315) -- (1384,1315) (1412,1315) -- (1435,1315);
\draw[ln] (1435,1280) -- (1435,1352);
\tks{1435}{1456}{1280,1298,1334,1352}
\draw[ln] (850,1385) -- (864,1385) (892,1385) -- (900,1385);
\draw[ln] (900,1362) -- (900,1403);
\tks{900}{908}{1362,1403}
\draw[ln] (936,1375) -- (1050,1375) -- (1050,1378);
\draw[ln] (850,1475) -- (864,1475) (892,1475) -- (900,1475);
\draw[ln] (900,1457) -- (900,1475);
\tks{900}{908}{1457}
\foreach \pa in {(210,222),(256,222),(316,215),(447,215),(520,215),(130,249),(596,249),(236,302),(335,302),(402,302),(472,302)}{\fill[gray!60] \pa circle [radius=0.6pt];}
% boxes
\bx{cO}{77}{261}\bx{cL}{111}{261}\bx{cO}{145}{261}
\bx{cT}{193}{234}\bx{cL}{235}{234}
\foreach \xa in {290,333,375,417}{\bx{cO}{\xa}{232}}
\bx{cL}{460}{232}
\bx{cO}{290}{261}\bx{cO}{417}{261}\rbx{cO}{460}{261}{5.5pt}{3.5pt}\bx{cT}{578}{261}
\bx{cT}{216}{290}\bx{cL}{290}{290}\bx{cO}{353}{290}\bx{cL}{417}{290}
\bx{cO}{661}{232}\bx{cL}{707}{232}
\bx{cO}{663}{355}
\bx{cT}{843}{300}\bx{cB}{886}{276}\bxs{cB}{928}{258,276,294}\rbx{cO}{970}{276}{6pt}{3.5pt}\bx{cB}{970}{305}
\bx{cB}{886}{340}\bxs{cB}{928}{340,358}\bx{cT}{970}{340}
\bx{cT}{1017}{338}\bxs{cB}{1060}{284,302,320,338,356,374,392}\bxs{cB}{1102}{265,283,301,392,412}\bx{cL}{1144}{392}
\bx{cT}{843}{423}\bx{cB}{886}{403}\rbx{cO}{928}{403}{6pt}{3.5pt}\bx{cL}{974}{403}\bx{cB}{928}{433}\bx{cB}{886}{453}\bx{cB}{886}{480}\bx{cT}{928}{480}
\bx{cO}{663}{550}\bx{cB}{706}{480}\bx{cT}{748}{480}\bx{cB}{706}{538}\bx{cT}{793}{538}\bxs{cB}{836}{518,557}\bx{cO}{863}{538}\bx{cB}{706}{712}\bx{cB}{706}{770}
\bx{cT}{1046}{538}\bx{cL}{1088}{498}\bx{cT}{1130}{508}\bx{cL}{1088}{538}\rbx{cO}{1130}{538}{6pt}{3.5pt}\bx{cL}{1178}{538}\bx{cL}{1130}{567}\bx{cL}{1178}{567}
\bx{cL}{1088}{604}\bxs{cB}{1130}{594,613}\bx{cO}{1088}{637}\bx{cL}{1130}{637}\bx{cL}{1088}{707}\bxs{cB}{1130}{670,688,706,724,742}
\bx{cL}{1218}{480}\bxs{cB}{1260}{462,480,498}
\bx{cT}{830}{712}\bxs{cB}{872}{640,658,676,712,730,748,766,784}\bxs{cB}{915}{620,640,658,676,748,766,784}\bx{cB}{952}{748}\bx{cL}{952}{784}\bx{cL}{915}{810}
\bx{cT}{1208}{784}\bxs{cB}{1250}{730,748,766,784,802,820,838,856,874,892}
\bxs{cB}{1294}{710,728,782}\bx{cO}{1294}{746}\bx{cL}{1294}{764}\bx{cT}{1336}{710}
\bx{cO}{663}{912}\bx{cL}{749}{873}\bxs{cB}{791}{855,873,891}\bx{cT}{748}{916}
\bx{cO}{663}{945}\bx{cL}{706}{945}\rbx{cO}{748}{945}{6pt}{3.5pt}\bx{cL}{794}{945}\bx{cL}{748}{975}\bx{cL}{794}{975}
\bx{cL}{706}{1010}\bxs{cB}{748}{1003,1020}\bx{cO}{706}{1045}\bx{cL}{748}{1045}\bx{cL}{706}{1112}\bxs{cB}{748}{1077,1095,1113,1131,1150}
\bx{cO}{663}{1205}\bx{cT}{793}{1205}\bxs{cB}{836}{1205,1223}\bx{cT}{878}{1160}\bxs{cB}{922}{1138,1177}\bx{cL}{959}{1160}\bx{cT}{996}{1160}
\bx{cT}{988}{1223}\bxs{cB}{1030}{1205,1223,1241,1259}\bx{cL}{1073}{1231}\bx{cO}{1116}{1231}\bx{cL}{1158}{1231}\bx{cO}{1073}{1250}
\bxs{cB}{836}{1315,1333,1352}\bx{cT}{1398}{1315}\bxs{cB}{1470}{1280,1298,1316,1334,1352}
\bx{cB}{836}{1385}\bx{cL}{878}{1385}\bxs{cB}{922}{1362,1385,1403}\bx{cO}{965}{1385}\bx{cL}{1007}{1385}\bx{cL}{1050}{1385}
\bx{cB}{836}{1475}\bx{cL}{878}{1475}\bxs{cB}{922}{1457,1475}
\end{scope}

% ================= titles
\node[ttl] (tIng) at (6,97) {ing};
\node[ttl] (tCart) at (531,97) {cart flow};
\node[ttl] (tOd) at (529,243) {od};
\node[ttl] (tOrder) at (1036,288) {Order Statuses...};
\node[ttl] (tOnA) at (1306,543) {Onboarding Fl...};
\node[ttl] (tOnB) at (1306,633) {Onboarding Fl...};
\node[ttl] (tApp) at (1602,95) {App Prototype};

\draw[frm,line width=8pt] (0,0) rectangle (2208,1751);
\end{tikzpicture}
\end{document}
